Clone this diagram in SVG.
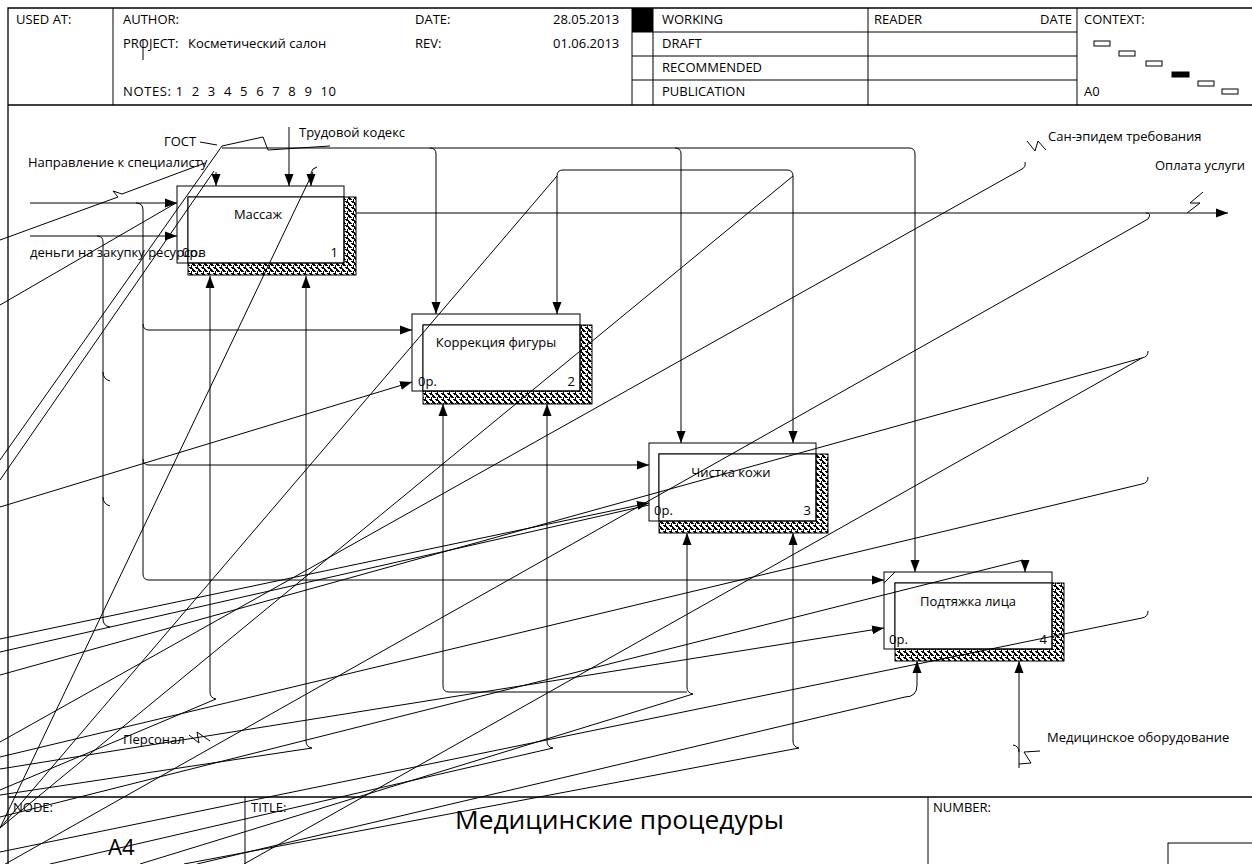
<svg xmlns="http://www.w3.org/2000/svg" width="1252" height="864" viewBox="0 0 1252 864">
<defs>
<style>
text{font-family:"Open Sans","Noto Sans","DejaVu Sans",sans-serif;font-size:13px;fill:#000}
.ln{fill:none;stroke:#000;stroke-width:1}
.ar{fill:none;stroke:#000;stroke-width:1;marker-end:url(#ah)}
.fr{fill:none;stroke:#000;stroke-width:1.3}
.hb{fill:url(#hatch);stroke:#000;stroke-width:1}
.wb{fill:#fff;stroke:#000;stroke-width:1}
.ob{fill:none;stroke:#000;stroke-width:1}
</style>
<marker id="ah" markerWidth="12" markerHeight="10" refX="12" refY="5" orient="auto" markerUnits="userSpaceOnUse"><path d="M0,0.5 L12,5 L0,9.5 z" fill="#000"/></marker>
<pattern id="hatch" width="6" height="6" patternUnits="userSpaceOnUse"><rect width="6" height="6" fill="#fff"/><path d="M0,0h3v1h-3z M1,1h3v1h-3z M3,3h3v1h-3z M4,4h2v1h-2z M0,4h1v1h-1z M0,5h2v1h-2z M5,1h1v2h-1z" fill="#000"/></pattern>
</defs>
<rect width="1252" height="864" fill="#fff"/>
<g id="frame">
<path class="fr" d="M8,864 V8 H1252 M8,105 H1252 M8,797 H1252"/>
<path class="ln" d="M113,8 V105 M632,8 V105 M653,8 V105 M868,8 V105 M1077,8 V105 M632,32 H1077 M632,56 H1077 M632,80 H1077 M245,797 V864 M928,797 V864 M143,40 V60"/>
<rect x="632" y="8" width="21" height="24" fill="#000"/>
<rect x="1168" y="843" width="90" height="30" class="ob"/>
<rect x="1094" y="41" width="16" height="5" class="wb"/>
<rect x="1119" y="51" width="16" height="5" class="wb"/>
<rect x="1146" y="61" width="16" height="5" class="wb"/>
<rect x="1172" y="72" width="17" height="5" fill="#000" stroke="#000"/>
<rect x="1198" y="81" width="16" height="5" class="wb"/>
<rect x="1222" y="89" width="16" height="5" class="wb"/>
<text x="16" y="24">USED AT:</text>
<text x="123" y="24">AUTHOR:</text>
<text x="123" y="48">PROJECT:</text>
<text x="188" y="48">Косметический салон</text>
<text x="123" y="96" xml:space="preserve" textLength="213" lengthAdjust="spacing">NOTES: 1  2  3  4  5  6  7  8  9  10</text>
<text x="415" y="24">DATE:</text>
<text x="553" y="24">28.05.2013</text>
<text x="415" y="48">REV:</text>
<text x="553" y="48">01.06.2013</text>
<text x="662" y="24">WORKING</text>
<text x="662" y="48">DRAFT</text>
<text x="662" y="72">RECOMMENDED</text>
<text x="662" y="96">PUBLICATION</text>
<text x="874" y="24">READER</text>
<text x="1040" y="24">DATE</text>
<text x="1084" y="24">CONTEXT:</text>
<text x="1084" y="96">A0</text>
<text x="13" y="812">NODE:</text>
<text x="251" y="812">TITLE:</text>
<text x="933" y="812">NUMBER:</text>
<text x="108" y="855" style="font-size:22px">A4</text>
<text x="455" y="829" style="font-size:26px" textLength="329" lengthAdjust="spacingAndGlyphs">Медицинские процедуры</text>
</g>
<g id="node1">
<rect x="188" y="197" width="168" height="78" class="hb"/>
<rect x="188" y="197" width="156" height="66" class="wb"/>
<rect x="177" y="186" width="167" height="77" class="ob"/>
<text x="258" y="219" text-anchor="middle">Массаж</text>
<text x="182" y="257">0р.</text>
<text x="338" y="257" text-anchor="end">1</text>
</g>
<g id="node2">
<rect x="423" y="325" width="169" height="79" class="hb"/>
<rect x="423" y="325" width="157" height="66" class="wb"/>
<rect x="412" y="314" width="168" height="77" class="ob"/>
<text x="496" y="347" text-anchor="middle">Коррекция фигуры</text>
<text x="418" y="386">0р.</text>
<text x="575" y="386" text-anchor="end">2</text>
</g>
<g id="node3">
<rect x="659" y="454" width="169" height="79" class="hb"/>
<rect x="659" y="454" width="157" height="67" class="wb"/>
<rect x="649" y="443" width="167" height="78" class="ob"/>
<text x="731" y="477" text-anchor="middle">Чистка кожи</text>
<text x="654" y="515">0р.</text>
<text x="811" y="515" text-anchor="end">3</text>
</g>
<g id="node4">
<rect x="895" y="583" width="169" height="78" class="hb"/>
<rect x="895" y="583" width="157" height="66" class="wb"/>
<rect x="884" y="572" width="168" height="77" class="ob"/>
<text x="968" y="606" text-anchor="middle">Подтяжка лица</text>
<text x="889" y="644">0р.</text>
<text x="1047" y="644" text-anchor="end">4</text>
</g>
<g id="labels">
<text x="164" y="146">ГОСТ</text>
<text x="299" y="137">Трудовой кодекс</text>
<text x="28" y="167">Направление к специалисту</text>
<text x="30" y="257">деньги на закупку ресурсов</text>
<text x="1048" y="141">Сан-эпидем требования</text>
<text x="1155" y="170">Оплата услуги</text>
<text x="123" y="744">Персонал</text>
<text x="1047" y="742">Медицинское оборудование</text>
</g>
<g id="connectors">
<path class="ar" d="M222,148 H430 Q436,148 436,154 V314"/>
<path class="ar" d="M430,148 H675 Q681,148 681,154 V443"/>
<path class="ar" d="M675,148 H909 Q915,148 915,154 V572"/>
<path class="ar" d="M289,127 V186"/>
<path class="ar" d="M563,170 Q557,170 557,176 V314"/>
<path class="ar" d="M563,170 H787 Q793,170 793,176 V443"/>
<path class="ar" d="M216,172 V186"/>
<path class="ar" d="M311,173 V186"/>
<path class="ln" d="M311,173 Q312,168 317,167"/>
<path class="ar" d="M30,203 H177"/>
<path class="ar" d="M30,236 H177"/>
<path class="ar" d="M136,203 Q143,203 143,210 V324 Q143,330 149,330 H412"/>
<path class="ar" d="M143,324 V459 Q143,465 149,465 H649"/>
<path class="ar" d="M143,459 V574 Q143,580 149,580 H884"/>
<path class="ln" d="M97,236 Q103,236 103,242 V619 Q103,626 110,627 M103,372 Q103,379 110,381 M103,497 Q103,504 110,506"/>
<path class="ar" d="M356,213 H1228"/>
<path class="ar" d="M216,699 Q210,698 210,692 V276"/>
<path class="ar" d="M312,748 Q306,747 306,741 V276"/>
<path class="ar" d="M687,692 H449 Q443,692 443,686 V404"/>
<path class="ar" d="M553,748 Q547,747 547,741 V404"/>
<path class="ar" d="M693,694 Q687,693 687,687 V533"/>
<path class="ar" d="M799,748 Q793,747 793,741 V533"/>
<path class="ar" d="M905,697 Q917,697 917,685 V661"/>
<path class="ar" d="M1019,768 V661"/>
<path class="ar" d="M0,507 L412,382"/>
<path class="ar" d="M0,639 L649,503"/>
<path class="ln" d="M0,652 L649,505"/>
<path class="ar" d="M0,769 L884,628"/>
<path class="ln" d="M0,817 L1023,560"/>
<path class="ar" d="M1025,560 V572"/>
<path class="ln" d="M0,305 L176,203"/>
<path class="ln" d="M1146,213 Q1152,213 1148,219 L0,867"/>
<path class="ln" d="M1025,162 Q1026,167 1022,169 L0,742"/>
<path class="ln" d="M557,176 L0,828"/>
<path class="ln" d="M793,176 L0,828"/>
<path class="ln" d="M222,146 L0,460"/>
<path class="ln" d="M214,171 L0,480"/>
<path class="ln" d="M313,172 L0,828"/>
<path class="ln" d="M1148,351 Q1148,357 1142,358 L0,675 M1142,358 L244,864"/>
<path class="ln" d="M1148,477 Q1148,483 1142,484 L0,757"/>
<path class="ln" d="M1148,611 Q1148,617 1142,618 L0,852"/>
<path class="ln" d="M905,697 L197,864"/>
<path class="ln" d="M693,694 L140,864"/>
<path class="ln" d="M553,748 L50,864"/>
<path class="ln" d="M799,748 L184,864"/>
<path class="ln" d="M312,748 L0,795"/>
<path class="ln" d="M216,699 L0,790"/>
<path class="ln" d="M205,163 L122,194 L113,191 L118,197 L0,240"/>
<path class="ln" d="M200,142 L217,145 M222,146 L263,137 L268,150 L330,146"/>
<path class="ln" d="M1027,141 L1035,151 L1038,141 L1046,150"/>
<path class="ln" d="M1203,192 L1190,203 L1200,203 L1187,213"/>
<path class="ln" d="M189,735 L199,743 L197,732 L210,741"/>
<path class="ln" d="M1040,751 L1024,752 L1031,763 L1019,764 M1013,745 Q1019,746 1019,752"/>
<path class="ln" d="M884,583 L895,572"/>
</g>
</svg>
